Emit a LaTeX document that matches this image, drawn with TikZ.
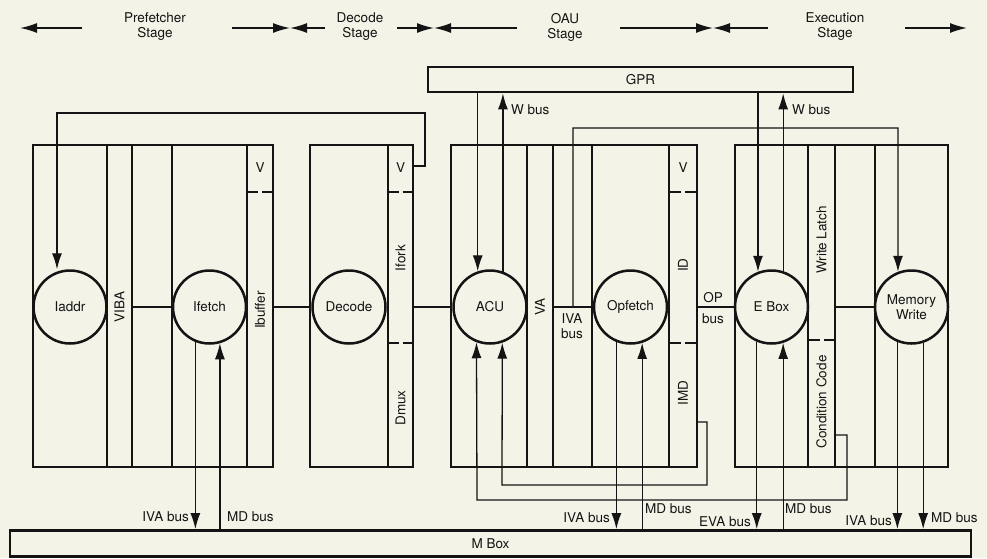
\documentclass[tikz,border=0pt]{standalone}
\usepackage{fontspec}
\setmainfont{TeX Gyre Heros}
\usetikzlibrary{arrows.meta}
\definecolor{bg}{RGB}{243,243,231}
\definecolor{ink}{RGB}{20,20,20}
\newcommand{\mysep}[3]{%
  \pgfmathsetmacro{\mysepm}{(#1+#2)/2}%
  \draw[col] (#1,#3) -- (\mysepm-2,#3) (\mysepm+2,#3) -- (#2,#3);}
\begin{document}
\begin{tikzpicture}[x=1pt,y=-1pt,
  font=\fontsize{13.5}{15}\selectfont,
  text=ink,
  box/.style={draw=ink,line width=2.8pt,inner sep=0pt},
  col/.style={draw=ink,line width=2.4pt},
  proc/.style={circle,draw=ink,fill=bg,line width=2.5pt,minimum size=73pt,inner sep=0pt,align=center},
  wire/.style={draw=ink,line width=1.3pt},
  arr/.style={wire,-{Latex[length=16pt,width=10pt]}},
  stagearr/.style={draw=ink,line width=1.5pt,-{Latex[length=17pt,width=10pt]}},
  vlbl/.style={rotate=90,inner sep=0pt},
  lbl/.style={inner sep=1pt},
]
\fill[bg] (0,0) rectangle (987,558);
\useasboundingbox (0,0) rectangle (987,558);

% ---------- stage header ----------
\node[align=center] (lpre) at (155,27) {Prefetcher\\Stage};
\node[align=center] (ldec) at (360,27) {Decode\\Stage};
\node[align=center] (loau) at (565,27) {OAU\\Stage};
\node[align=center] (lexe) at (835,27) {Execution\\Stage};
\coordinate (s1a) at (82,28);  \coordinate (s1b) at (20,28);
\coordinate (s2a) at (232,28); \coordinate (s2m) at (290,28); \coordinate (s2b) at (325,28);
\coordinate (s3a) at (397,28); \coordinate (s3m) at (434,28); \coordinate (s3b) at (517,28);
\coordinate (s4a) at (620,28); \coordinate (s4m) at (713,28); \coordinate (s4b) at (768,28);
\coordinate (s5a) at (905,28); \coordinate (s5b) at (967,28);
\draw[stagearr] (s1a) -- (s1b);
\draw[stagearr] (s2a) -- (s2m); \draw[stagearr] (s2b) -- (s2m);
\draw[stagearr] (s3a) -- (s3m); \draw[stagearr] (s3b) -- (s3m);
\draw[stagearr] (s4a) -- (s4m); \draw[stagearr] (s4b) -- (s4m);
\draw[stagearr] (s5a) -- (s5b);

% ---------- GPR and M Box ----------
\node[box,minimum width=425pt,minimum height=25pt] (gpr) at (640.5,79.5) {GPR};
\node[box,minimum width=961pt,minimum height=26pt] (mbox) at (490.5,543.5) {M Box};

% ---------- stage boxes ----------
\node[box,minimum width=240pt,minimum height=322pt] (pbox) at (153,306) {};
\node[box,minimum width=103pt,minimum height=322pt] (dbox) at (361.5,306) {};
\node[box,minimum width=246pt,minimum height=322pt] (obox) at (574,306) {};
\node[box,minimum width=213pt,minimum height=322pt] (ebx) at (841.5,306) {};

% columns
\foreach \cx in {107,132,172,247,388,527,553,592,669,808,835,875}
  \draw[col] (\cx,145) -- (\cx,467);
\mysep{247}{273}{192}
\mysep{388}{413}{192}
\mysep{388}{413}{343}
\mysep{669}{697}{192}
\mysep{669}{697}{343}
\mysep{808}{835}{340}

% column labels
\node (v1) at (260,168) {V};
\node (v2) at (400.5,168) {V};
\node (v3) at (683,168) {V};
\node[vlbl] (viba) at (119.5,307) {VIBA};
\node[vlbl] (ibuf) at (260,310) {Ibuffer};
\node[vlbl] (ifork) at (400.5,258) {Ifork};
\node[vlbl] (dmux) at (400.5,408) {Dmux};
\node[vlbl] (va) at (540,307) {VA};
\node[vlbl] (id) at (683,265) {ID};
\node[vlbl] (imd) at (683,393) {IMD};
\node[vlbl] (wl) at (821.5,240) {Write Latch};
\node[vlbl] (cc) at (821.5,402) {Condition Code};

% ---------- processes ----------
\node[proc] (iaddr) at (70,307) {Iaddr};
\node[proc] (ifetch) at (209.5,307) {Ifetch};
\node[proc] (decode) at (349,307) {Decode};
\node[proc] (acu) at (490,307) {ACU};
\node[proc] (opf) at (630.5,307) {Opfetch};
\node[proc] (eb) at (771.5,307) {E Box};
\node[proc] (mw) at (911.5,307) {Memory\\Write};

% ---------- horizontal links ----------
\coordinate (vibaR) at (132,307);
\coordinate (ibufR) at (273,307);
\coordinate (decR) at (413,307);
\coordinate (vaR) at (553,307);
\coordinate (oauR) at (697,307);
\coordinate (wlR) at (835,307);
\draw[wire] (vibaR) -- (ifetch.west);
\draw[wire] (ibufR) -- (decode.west);
\draw[wire] (decR) -- (acu.west);
\draw[wire] (vaR) -- (opf.west);
\draw[wire] (oauR) -- (eb.west);
\draw[wire] (wlR) -- (mw.west);
\node[align=center,inner sep=0pt] (ivab) at (572,326) {IVA\\bus};
\node (opl) at (713,298) {OP};
\node (opb) at (713,319) {bus};

% ---------- top links ----------
\coordinate (vout) at (413,166);
\coordinate (vc1) at (425,166);
\coordinate (vc2) at (425,113);
\coordinate (vc3) at (57,113);
\draw[arr] (vout) -- (vc1) -- (vc2) -- (vc3) -- (iaddr.north -| vc3);

\draw[arr] (acu.109 |- gpr.south) -- (acu.109);
\draw[arr] (acu.70) -- (acu.70 |- gpr.south);
\node[lbl,anchor=west] (wb1) at (510,110) {W bus};
\draw[arr] (eb.111 |- gpr.south) -- (eb.111);
\draw[arr] (eb.72) -- (eb.72 |- gpr.south);
\node[lbl,anchor=west] (wb2) at (791,110) {W bus};

\coordinate (ivaJ) at (573,307);
\coordinate (ivaT) at (573,128);
\coordinate (ivaR) at (898,128);
\draw[arr] (ivaJ) -- (ivaT) -- (ivaR) -- (mw.111);

% ---------- bottom links ----------
\draw[arr] (ifetch.248) -- (ifetch.248 |- mbox.north);
\draw[arr] (ifetch.286 |- mbox.north) -- (ifetch.286);
\node[lbl,anchor=east] (l1) at (190,517) {IVA bus};
\node[lbl,anchor=west] (l2) at (226,517) {MD bus};

\coordinate (imdO) at (697,422);
\coordinate (imd1) at (707,422);
\coordinate (imd2) at (707,485);
\coordinate (imd3) at (502,485);
\draw[arr] (imdO) -- (imd1) -- (imd2) -- (imd3) -- (acu.289);
\coordinate (ccO) at (835,435);
\coordinate (cc1) at (847,435);
\coordinate (cc2) at (847,500);
\coordinate (cc3) at (477,500);
\draw[arr] (ccO) -- (cc1) -- (cc2) -- (cc3) -- (acu.249);

\draw[arr] (opf.248) -- (opf.248 |- mbox.north);
\draw[arr] (opf.288 |- mbox.north) -- (opf.288);
\node[lbl,anchor=east] (l3) at (611,518) {IVA bus};
\node[lbl,anchor=west] (l4) at (644,509) {MD bus};

\draw[arr] (eb.247) -- (eb.247 |- mbox.north);
\draw[arr] (eb.288 |- mbox.north) -- (eb.288);
\node[lbl,anchor=east] (l5) at (752,522) {EVA bus};
\node[lbl,anchor=west] (l6) at (784,509) {MD bus};

\draw[arr] (mw.248) -- (mw.248 |- mbox.north);
\draw[arr] (mw.288) -- (mw.288 |- mbox.north);
\node[lbl,anchor=east] (l7) at (893,521) {IVA bus};
\node[lbl,anchor=west] (l8) at (930,518) {MD bus};
\end{tikzpicture}
\end{document}
